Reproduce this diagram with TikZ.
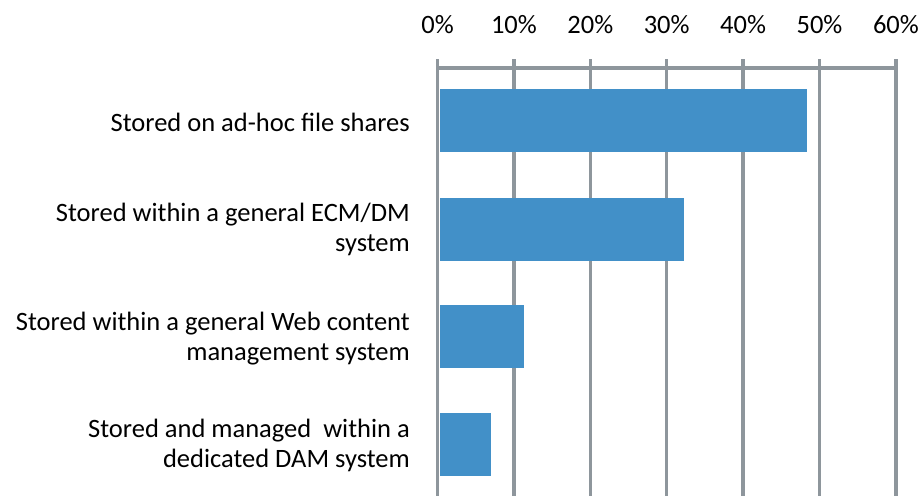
\documentclass[tikz,border=0pt]{standalone}
\usepackage{fontspec}
\setmainfont{Carlito}
\usepackage{xcolor}
\usetikzlibrary{positioning}
\definecolor{gridgray}{HTML}{8E969C}
\definecolor{barblue}{HTML}{4290C8}

\begin{document}
\begin{tikzpicture}[x=1pt,y=-1pt,
    gridline/.style={draw=gridgray, line width=3.5pt},
    bar/.style={fill=barblue},
    pct/.style={font=\fontsize{26.5}{30}\selectfont, inner sep=0pt, anchor=base},
    cat/.style={font=\fontsize{26.5}{30.5}\selectfont, align=right, anchor=east, inner sep=0pt}]
    \useasboundingbox (0,0) rectangle (924,496);
    % scale labels
    \node[pct] (p0) at (437.5,33.3) {0\%};
    \node[pct] (p10) at (513.9,33.3) {10\%};
    \node[pct] (p20) at (590.3,33.3) {20\%};
    \node[pct] (p30) at (666.7,33.3) {30\%};
    \node[pct] (p40) at (743.1,33.3) {40\%};
    \node[pct] (p50) at (819.5,33.3) {50\%};
    \node[pct] (p60) at (895.9,33.3) {60\%};
    % grid
    \draw[gridline] (437.5,68) -- (895.9,68);
    \draw[gridline] (437.5,59) -- (437.5,496);
    \draw[gridline] (513.9,59) -- (513.9,496);
    \draw[gridline] (590.3,59) -- (590.3,496);
    \draw[gridline] (666.7,59) -- (666.7,496);
    \draw[gridline] (743.1,59) -- (743.1,496);
    \draw[gridline] (819.5,59) -- (819.5,496);
    \draw[gridline] (895.9,59) -- (895.9,496);
    % bars
    \fill[bar] (439.5,89) rectangle (807,151.7);
    \fill[bar] (439.5,198) rectangle (684,260.7);
    \fill[bar] (439.5,305) rectangle (524,367.7);
    \fill[bar] (439.5,413) rectangle (491,475.7);
    % categories
    \node[cat] (adhoc) at (410,122.5) {Stored on ad-hoc file shares};
    \node[cat] (ecm) at (410,229.6) {Stored within a general ECM/DM\\system};
    \node[cat] (wcm) at (410,338.6) {Stored within a general Web content\\management system};
    \node[cat] (dam) at (410,445.3) {Stored and managed\ \ within a\\dedicated DAM system};
\end{tikzpicture}
\end{document}
